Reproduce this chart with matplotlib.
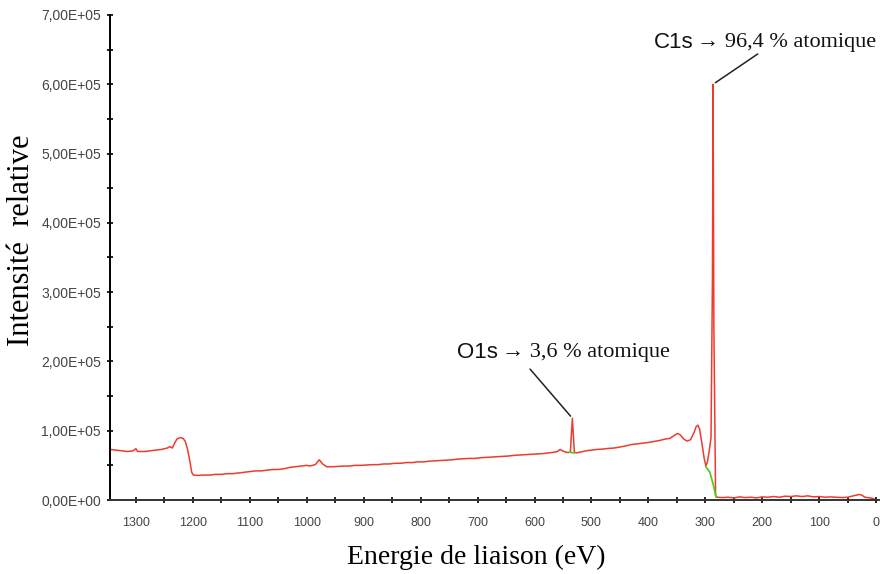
import matplotlib
matplotlib.use('Agg')
import matplotlib.pyplot as plt
from matplotlib.ticker import MultipleLocator, FuncFormatter

# XPS survey spectrum (binding energy in eV, intensity in units of 1e5)
energie = [1345, 1335, 1325, 1315, 1305, 1300, 1297, 1285, 1275, 1265, 1255, 1245,
           1240, 1236, 1232, 1228, 1222, 1217, 1213, 1209, 1205, 1202, 1199, 1190,
           1180, 1170, 1160, 1150, 1140, 1130, 1120, 1110, 1100, 1090, 1080, 1070,
           1060, 1050, 1040, 1030, 1020, 1010, 1000, 995, 985, 978, 972, 965, 955,
           945, 935, 925, 915, 905, 895, 885, 875, 865, 855, 845, 835, 825, 815,
           805, 795, 785, 775, 765, 755, 745, 735, 725, 715, 705, 695, 685, 675,
           665, 655, 645, 635, 625, 615, 605, 595, 585, 575, 565, 560, 555, 551,
           545, 540, 537, 533.5, 530, 526, 520, 510, 500, 490, 480, 470, 460, 450,
           440, 430, 420, 410, 400, 390, 380, 370, 362, 355, 349, 344, 338, 332,
           326, 320, 316, 313, 310, 306, 302, 299, 296, 293, 290, 287.5, 286.4,
           285, 282, 279, 270, 260, 250, 240, 230, 220, 210, 200, 190, 180, 170,
           160, 150, 140, 130, 120, 110, 100, 90, 80, 70, 60, 50, 40, 30, 25, 20,
           10, 5, 0, -5]
intensite = [0.73, 0.72, 0.71, 0.70, 0.71, 0.74, 0.70, 0.70, 0.71, 0.72, 0.73, 0.75,
             0.77, 0.75, 0.82, 0.88, 0.90, 0.89, 0.84, 0.72, 0.55, 0.40, 0.36, 0.355,
             0.36, 0.36, 0.37, 0.37, 0.38, 0.38, 0.39, 0.40, 0.41, 0.42, 0.42, 0.43,
             0.44, 0.44, 0.45, 0.47, 0.48, 0.49, 0.50, 0.49, 0.51, 0.58, 0.52, 0.48, 0.48,
             0.485, 0.49, 0.49, 0.50, 0.50, 0.505, 0.51, 0.51, 0.52, 0.52, 0.53, 0.53, 0.54, 0.54,
             0.55, 0.55, 0.56, 0.565, 0.57, 0.575, 0.58, 0.59, 0.595, 0.60, 0.60, 0.61, 0.615, 0.62,
             0.625, 0.63, 0.635, 0.645, 0.65, 0.655, 0.66, 0.665, 0.67, 0.68, 0.69, 0.70, 0.73, 0.71,
             0.69, 0.685, 0.69, 1.18, 0.69, 0.68, 0.69, 0.71, 0.72, 0.73, 0.735, 0.745, 0.75, 0.765,
             0.78, 0.80, 0.81, 0.82, 0.83, 0.845, 0.86, 0.88, 0.89, 0.93, 0.96, 0.94, 0.88, 0.85,
             0.87, 0.97, 1.06, 1.08, 1.02, 0.82, 0.60, 0.49, 0.56, 0.72, 0.90, 3.2, 6.00,
             2.5, 0.06, 0.04, 0.035, 0.04, 0.03, 0.045, 0.035, 0.04, 0.03, 0.045, 0.04, 0.05, 0.04,
             0.055, 0.05, 0.06, 0.05, 0.06, 0.045, 0.05, 0.04, 0.045, 0.04, 0.035, 0.04, 0.06, 0.08, 0.07, 0.04,
             0.03, 0.02, 0.0, 0.0]

# background lines under the peaks
fond_o_x = [538, 530]
fond_o_y = [0.69, 0.68]
fond_c_x = [299, 292, 286, 281]
fond_c_y = [0.48, 0.40, 0.22, 0.04]

fig = plt.figure(figsize=(8.8, 5.74), dpi=100)
ax = fig.add_axes([110/880, 1 - 500/574, 769/880, 485/574])

ax.plot(energie, [v * 1e5 for v in intensite], color='#ee3b2e', lw=1.1)
ax.plot(fond_o_x, [v * 1e5 for v in fond_o_y], color='#55cc22', lw=1.3)
ax.plot(fond_c_x, [v * 1e5 for v in fond_c_y], color='#55cc22', lw=1.3)

ax.set_xlim(1345.5, -5)
ax.set_ylim(0, 7e5)
ax.xaxis.set_major_locator(MultipleLocator(100))
ax.xaxis.set_minor_locator(MultipleLocator(50))
ax.yaxis.set_major_locator(MultipleLocator(1e5))
ax.yaxis.set_minor_locator(MultipleLocator(0.5e5))
ax.yaxis.set_major_formatter(FuncFormatter(lambda v, p: f"{v:.2E}".replace('.', ',')))
ax.xaxis.set_major_formatter(FuncFormatter(lambda v, p: f"{v:.0f}"))

for s in ['top', 'right']:
    ax.spines[s].set_visible(False)
for s in ['left', 'bottom']:
    ax.spines[s].set_linewidth(1.4)
ax.spines['bottom'].set_color('#333333')

ax.tick_params(axis='both', which='both', direction='inout', length=5, width=1.2)
ax.tick_params(axis='y', which='major', labelsize=10, labelcolor='#444444', pad=4)
ax.tick_params(axis='x', which='major', labelsize=9, labelcolor='#444444', pad=10)
for lab in ax.get_xticklabels() + ax.get_yticklabels():
    lab.set_family('Liberation Sans')

serif = ['Liberation Serif', 'DejaVu Serif']
fig.text(22/880, 1 - 240/574, 'Intensité  relative', family=serif, fontsize=22,
         rotation=90, ha='center', va='center')
fig.text(476/880, 1 - 557/574, 'Energie de liaison (eV)', family=serif, fontsize=20,
         ha='center', va='center')

# annotations
ax.annotate('', xy=(286.4, 6.0e5), xytext=(204, 6.46e5),
            arrowprops=dict(arrowstyle='-', color='#222222', lw=1.1))
ax.annotate('', xy=(533.5, 1.18e5), xytext=(611, 1.92e5),
            arrowprops=dict(arrowstyle='-', color='#222222', lw=1.1))

ax.text(654/880, 1 - 42/574, 'C1s', transform=fig.transFigure, family='Liberation Sans',
        fontsize=16, ha='left', va='center', color='#111111')
ax.text(697/880, 1 - 42/574, '→ 96,4 % atomique', transform=fig.transFigure, family=serif,
        fontsize=16, ha='left', va='center', color='#111111')
ax.text(457/880, 1 - 353/574, 'O1s', transform=fig.transFigure, family='Liberation Sans',
        fontsize=16, ha='left', va='center', color='#111111')
ax.text(502/880, 1 - 353/574, '→ 3,6 % atomique', transform=fig.transFigure, family=serif,
        fontsize=16, ha='left', va='center', color='#111111')

fig.savefig('out.png', dpi=100)
